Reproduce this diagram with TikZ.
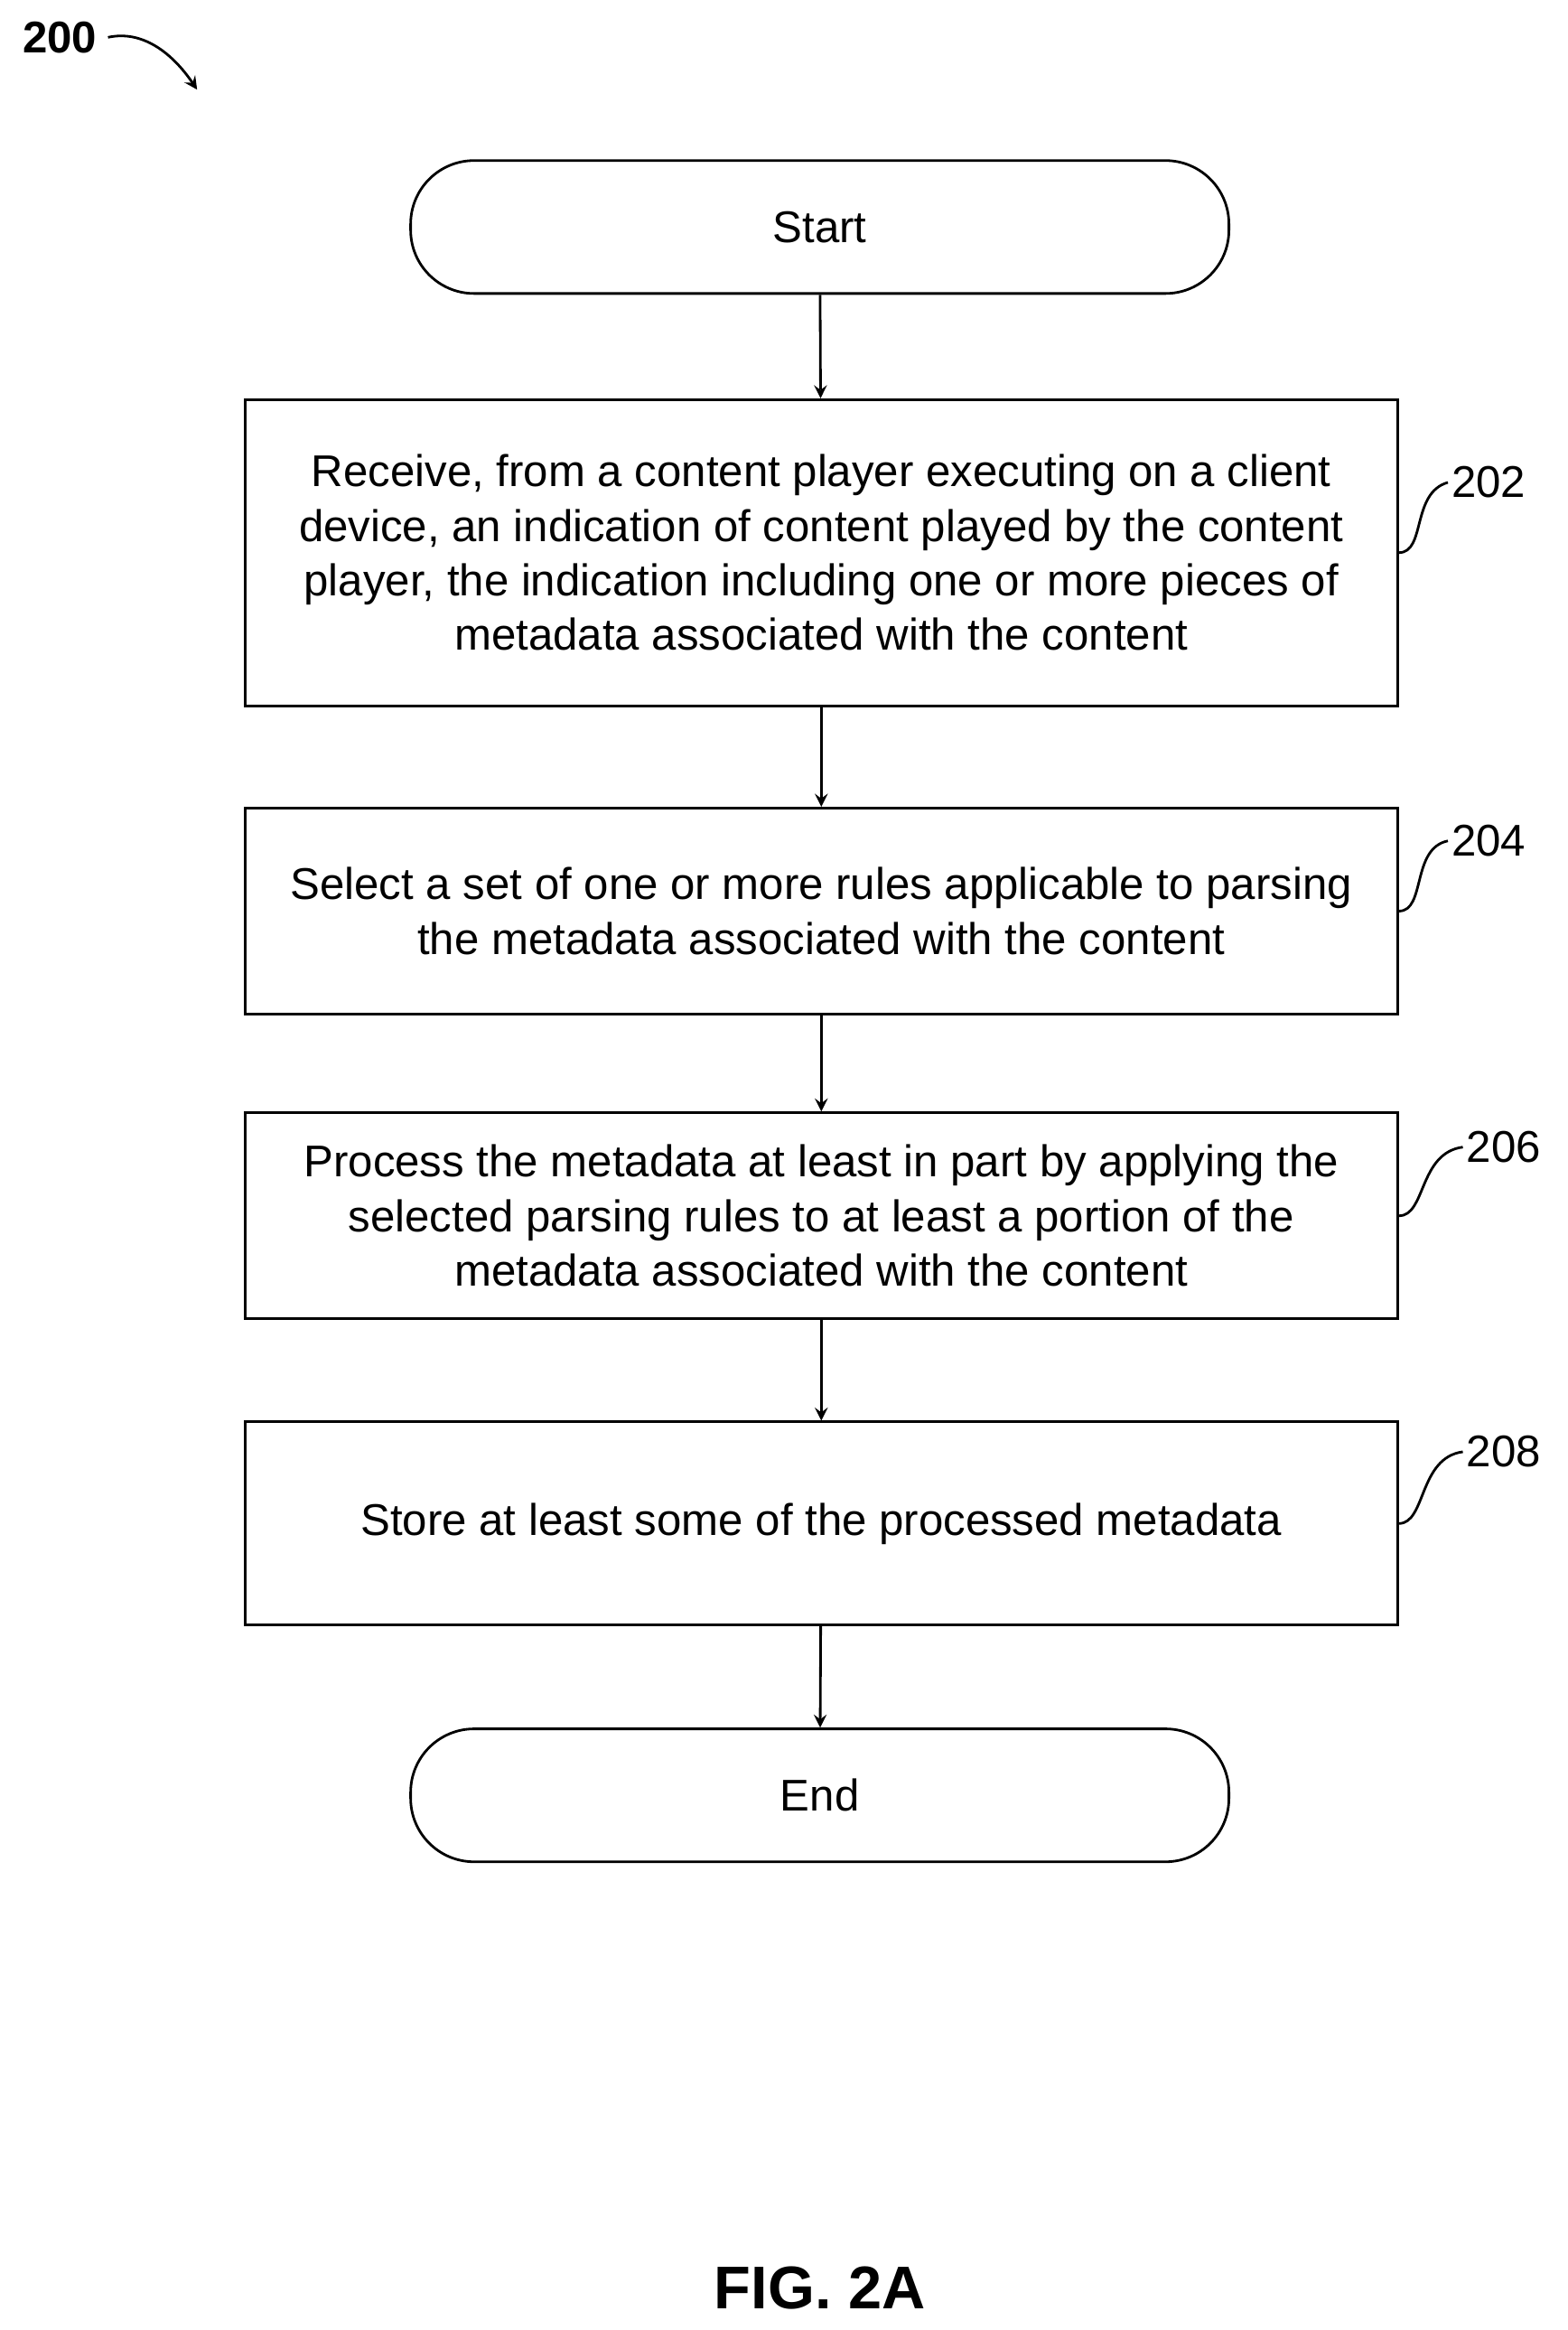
\documentclass[tikz,border=0pt]{standalone}
\usepackage{fontspec}
\setmainfont{Liberation Sans}
\begin{document}
\begin{tikzpicture}[x=0.01654cm,y=-0.01654cm]
		\tikzstyle{term}=[rectangle,rounded corners=20pt,draw=black,thick,minimum width=548*0.01654cm,minimum height=89*0.01654cm,font=\fontsize{14}{17}\selectfont]
		\tikzstyle{flowstep}=[rectangle,draw=black,thick,minimum width=772*0.01654cm,align=center,font=\fontsize{14}{17.2}\selectfont]
		\tikzstyle{ref}=[font=\fontsize{14}{15}\selectfont,inner sep=1pt]
		\useasboundingbox (0,0) rectangle (1050,1560);
		\begin{scope}
		\node[term] (start) at (549,152)  {Start};
		\node[flowstep,minimum height=205*0.01654cm] (s202) at (550,370) {Receive, from a content player executing on a client\\device, an indication of content played by the content\\player, the indication including one or more pieces of\\metadata associated with the content};
		\node[flowstep,minimum height=138*0.01654cm] (s204) at (550,610) {Select a set of one or more rules applicable to parsing\\the metadata associated with the content};
		\node[flowstep,minimum height=138*0.01654cm] (s206) at (550,814) {Process the metadata at least in part by applying the\\selected parsing rules to at least a portion of the\\metadata associated with the content};
		\node[flowstep,minimum height=136*0.01654cm] (s208) at (550,1020) {Store at least some of the processed metadata};
		\node[term] (end) at (549,1202)  {End};
		\node[ref] (l202) at (997,323) {202};
		\node[ref] (l204) at (997,563) {204};
		\node[ref] (l206) at (1007,768) {206};
		\node[ref] (l208) at (1007,972) {208};
		\node[font=\bfseries\fontsize{14}{15}\selectfont] (l200) at (40,25) {200};
		\node[font=\bfseries\fontsize{19}{22}\selectfont] (fig) at (549,1532) {FIG. 2A};
		\coordinate (c200) at (132,60);
		\end{scope}
		
		\path[->,>=stealth,thick]
		(start) edge (s202)
		(s202) edge (s204)
		(s204) edge (s206)
		(s206) edge (s208)
		(s208) edge (end)
		;
		\draw[thick] (s202.east) .. controls (955,370) and (945,330) .. (l202.west);
		\draw[thick] (s204.east) .. controls (955,610) and (945,568) .. (l204.west);
		\draw[thick] (s206.east) .. controls (955,814) and (950,772) .. (l206.west);
		\draw[thick] (s208.east) .. controls (955,1020) and (950,976) .. (l208.west);
		\draw[->,>=stealth,thick] (l200.east) .. controls (95,20) and (115,35) .. (c200);
		\end{tikzpicture}
\end{document}
